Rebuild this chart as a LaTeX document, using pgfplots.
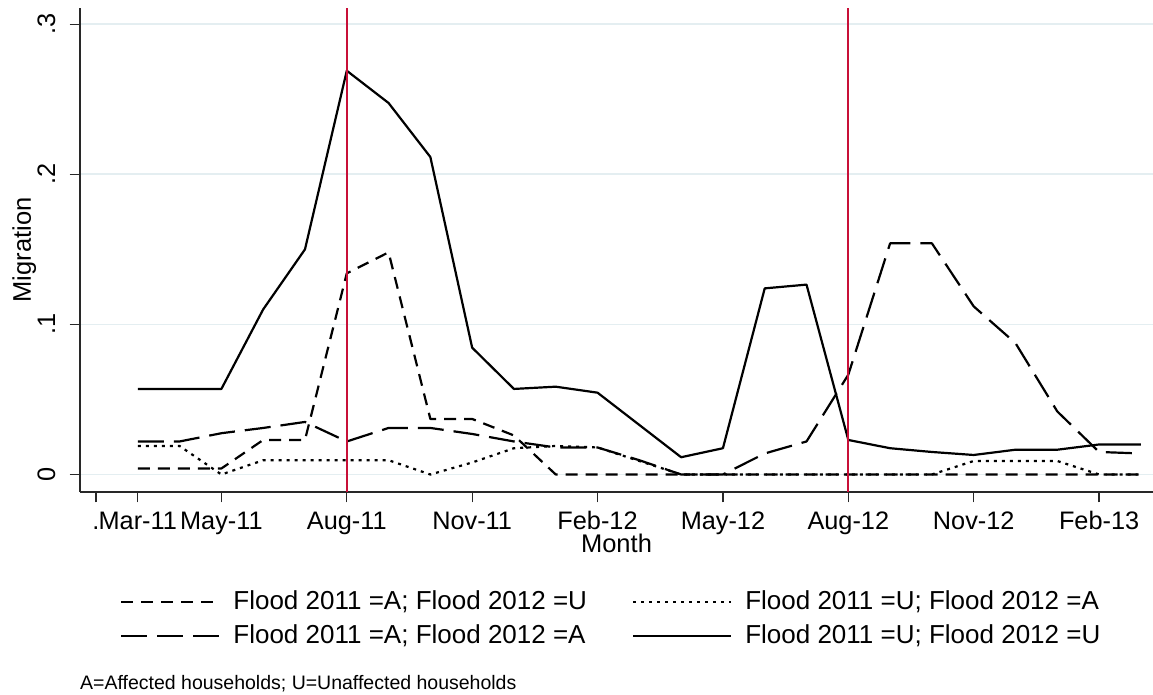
\documentclass[border=0pt]{standalone}
\usepackage{fontspec}
\setmainfont{Liberation Sans}
\usepackage{pgfplots}
\usepackage{pgfplotstable}
\pgfplotsset{compat=1.18}
\definecolor{stred}{RGB}{200,16,56}
\definecolor{gridc}{RGB}{228,238,241}
\definecolor{axc}{RGB}{40,40,40}

\pgfplotstableread{
i AU UA AA UU
1 0.004 0.019 0.022 0.057
2 0.004 0.019 0.022 0.057
3 0.004 0.000 0.0275 0.057
4 0.023 0.0095 0.031 0.110
5 0.023 0.0095 0.035 0.150
6 0.134 0.0095 0.022 0.269
7 0.148 0.0095 0.031 0.2475
8 0.037 0.000 0.031 0.2115
9 0.037 0.008 0.027 0.0845
10 0.026 0.0175 0.022 0.057
11 0.000 0.019 0.018 0.0585
12 0.000 0.018 0.018 0.0545
13 0.000 0.009 0.0095 0.033
14 0.000 0.000 0.000 0.0115
15 0.000 0.000 0.000 0.0175
16 0.000 0.000 0.014 0.124
17 0.000 0.000 0.022 0.1265
18 0.000 0.000 0.0665 0.023
19 0.000 0.000 0.154 0.0175
20 0.000 0.000 0.154 0.015
21 0.000 0.009 0.112 0.013
22 0.000 0.009 0.0875 0.0165
23 0.000 0.009 0.042 0.0165
24 0.000 0.000 0.015 0.020
25 0.000 0.000 0.014 0.020
}\migr

\begin{document}
\begin{tikzpicture}[x=1bp,y=1bp]
\useasboundingbox (0,0) rectangle (1153,695);
\begin{axis}[
  at={(80bp,203bp)}, anchor=south west,
  scale only axis, width=1073bp, height=484bp,
  xmin=-0.383, xmax=25.29, ymin=-0.01166, ymax=0.3108,
  axis x line=bottom, axis y line=left,
  axis line style={-, axc, line width=1.3bp},
  xtick={0,1,3,6,9,12,15,18,21,24},
  xticklabels={.,Mar-11,May-11,Aug-11,Nov-11,Feb-12,May-12,Aug-12,Nov-12,Feb-13},
  ytick={0,0.1,0.2,0.3}, yticklabels={0,.1,.2,.3},
  tick align=outside, major tick length=10.5bp,
  tick style={axc, line width=1.2bp},
  ymajorgrids, grid style={gridc, line width=1.6bp},
  xticklabel style={font=\fontsize{25.3bp}{30bp}\selectfont, anchor=base, yshift=-27.5bp},
  yticklabel style={font=\fontsize{25.3bp}{30bp}\selectfont, rotate=90, anchor=base, yshift=14.5bp},
  xlabel={Month}, ylabel={Migration},
  xlabel style={font=\fontsize{25.5bp}{30bp}\selectfont, at={(axis description cs:0.5,-0.126)}, anchor=base},
  ylabel style={font=\fontsize{25.5bp}{30bp}\selectfont, at={(axis description cs:-0.0457,0.5)}, anchor=base, rotate=0},
  legend columns=2,
  legend cell align=left,
  legend image code/.code={\draw[#1] (0bp,0bp) -- (98bp,0bp);},
  legend style={at={(axis description cs:0.0373,-0.2025)}, anchor=north west,
    draw=none, fill=none, inner sep=0pt,
    font=\fontsize{26bp}{30bp}\selectfont,
    nodes={inner sep=0pt, text height=19bp, text depth=5bp},
    row sep=10bp,
    /tikz/every odd column/.style={column sep=13bp},
    /tikz/every even column/.style={column sep=45bp}},
]
\addplot[black, line width=2.2bp, line join=round, dash pattern=on 12bp off 8bp] table[x=i,y=AU]{\migr};
\addlegendentry{Flood 2011 =A; Flood 2012 =U}
\addplot[black, line width=2.2bp, line join=round, dash pattern=on 3bp off 5bp] table[x=i,y=UA]{\migr};
\addlegendentry{Flood 2011 =U; Flood 2012 =A}
\addplot[black, line width=2.2bp, line join=round, dash pattern=on 26bp off 10bp] table[x=i,y=AA]{\migr};
\addlegendentry{Flood 2011 =A; Flood 2012 =A}
\addplot[black, line width=2.2bp, line join=round] table[x=i,y=UU]{\migr};
\addlegendentry{Flood 2011 =U; Flood 2012 =U}
\draw[stred, line width=2bp] (axis cs:6,-0.01166) -- (axis cs:6,0.3108);
\draw[stred, line width=2bp] (axis cs:18,-0.01166) -- (axis cs:18,0.3108);
\end{axis}
\node[anchor=base west, inner sep=0pt, font=\fontsize{19.5bp}{23bp}\selectfont] at (80,5) {A=Affected households; U=Unaffected households};
\end{tikzpicture}
\end{document}
